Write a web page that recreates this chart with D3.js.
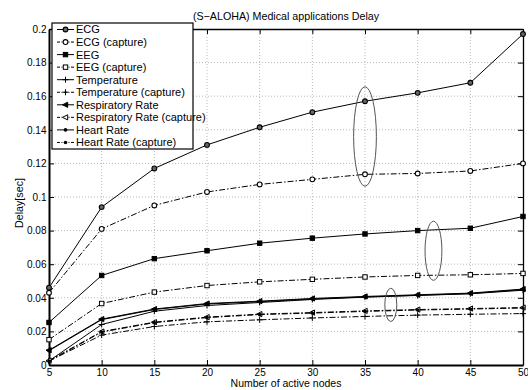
<!DOCTYPE html>
<html>
<head>
<meta charset="utf-8">
<script src="https://cdn.jsdelivr.net/npm/d3@7"></script>
<style>
  body { margin: 0; background: #fff; }
  svg { font-family: "Liberation Sans", Arial, sans-serif; }
</style>
</head>
<body>
<div id="chart"></div>
<script>
// number of active nodes
const nodes = [5, 10, 15, 20, 25, 30, 35, 40, 45, 50];

// delay [sec] per application
const ecg      = [0.046, 0.094, 0.117, 0.131, 0.1415, 0.1505, 0.157, 0.162, 0.168, 0.197];
const ecgCap   = [0.043, 0.081, 0.095, 0.103, 0.1075, 0.1105, 0.1135, 0.114, 0.1155, 0.120];
const eeg      = [0.0253, 0.0533, 0.0633, 0.068, 0.0725, 0.0755, 0.078, 0.080, 0.0814, 0.0884];
const eegCap   = [0.0151, 0.0366, 0.0434, 0.0473, 0.0495, 0.051, 0.0524, 0.0533, 0.0537, 0.0545];
const temp     = [0.0024, 0.0241, 0.032, 0.0354, 0.0372, 0.039, 0.0404, 0.0414, 0.0424, 0.0445];
const tempCap  = [0.0024, 0.0178, 0.0229, 0.0257, 0.0269, 0.028, 0.0289, 0.0297, 0.0302, 0.0306];
const resp     = [0.0088, 0.0273, 0.0333, 0.0366, 0.038, 0.0396, 0.0408, 0.0418, 0.0428, 0.0452];
const respCap  = [0.0026, 0.0199, 0.0255, 0.0285, 0.0303, 0.0312, 0.0322, 0.033, 0.0336, 0.0342];
const heart    = [0.0085, 0.027, 0.033, 0.0363, 0.0377, 0.0393, 0.0405, 0.0415, 0.0425, 0.0449];
const heartCap = [0.0022, 0.0196, 0.0252, 0.0282, 0.030, 0.0309, 0.0319, 0.0327, 0.0333, 0.0339];

const seriesNames = ["ECG", "ECG (capture)", "EEG", "EEG (capture)", "Temperature", "Temperature (capture)",
  "Respiratory Rate", "Respiratory Rate (capture)", "Heart Rate", "Heart Rate (capture)"];
const seriesValues = [ecg, ecgCap, eeg, eegCap, temp, tempCap, resp, respCap, heart, heartCap];
const seriesMarkers = ["circle", "circleOpen", "square", "squareOpen", "plus", "plus",
  "triangle", "triangleOpen", "dot", "dot"];

const xTicks = [5, 10, 15, 20, 25, 30, 35, 40, 45, 50];
const yTicks = [0, 0.02, 0.04, 0.06, 0.08, 0.1, 0.12, 0.14, 0.16, 0.18, 0.2];

// annotation ellipses: [x center, y center, x radius, y radius] in data units
const ellipses = [[35, 0.136, 1.08, 0.0296], [41.5, 0.068, 0.8, 0.0176], [37.45, 0.0358, 0.57, 0.0099]];

const W = 528, H = 390;
const margin = { top: 29, left: 49, bottom: 25, right: 5 };

const svg = d3.select("#chart").append("svg")
  .attr("width", W)
  .attr("height", H);

const x = d3.scaleLinear().domain([5, 50]).range([margin.left, W - margin.right]);
const y = d3.scaleLinear().domain([0, 0.2]).range([H - margin.bottom, margin.top]);

// grid
const grid = svg.append("g")
  .attr("stroke", "#b8b8b8")
  .attr("stroke-width", 1)
  .attr("stroke-dasharray", "1,2");
grid.selectAll(".gx").data(xTicks.slice(1, -1)).enter().append("line")
  .attr("x1", d => x(d)).attr("x2", d => x(d))
  .attr("y1", y(0)).attr("y2", y(0.2));
grid.selectAll(".gy").data(yTicks.slice(1, -1)).enter().append("line")
  .attr("x1", x(5)).attr("x2", x(50))
  .attr("y1", d => y(d)).attr("y2", d => y(d));

// axes (inward ticks on all four sides)
const fmt = d => String(+d.toFixed(2));
const axisStyle = w => g => {
  g.select(".domain").attr("stroke", "#000").attr("stroke-width", w);
  g.selectAll(".tick line").attr("stroke", "#000").attr("stroke-width", 1);
  g.selectAll("text").attr("font-size", "10px").attr("fill", "#000").attr("font-family", null);
};
svg.append("g")
  .attr("transform", `translate(0,${y(0)})`)
  .call(d3.axisBottom(x).tickValues(xTicks).tickSize(-5).tickSizeOuter(0).tickPadding(4).tickFormat(d3.format("d")))
  .call(axisStyle(2));
svg.append("g")
  .attr("transform", `translate(0,${y(0.2)})`)
  .call(d3.axisTop(x).tickValues(xTicks).tickSize(-5).tickSizeOuter(0).tickFormat(""))
  .call(axisStyle(1.3));
svg.append("g")
  .attr("transform", `translate(${x(5)},0)`)
  .call(d3.axisLeft(y).tickValues(yTicks).tickSize(-5).tickSizeOuter(0).tickPadding(2.5).tickFormat(fmt))
  .call(axisStyle(2));
svg.append("g")
  .attr("transform", `translate(${x(50)},0)`)
  .call(d3.axisRight(y).tickValues(yTicks).tickSize(-5).tickSizeOuter(0).tickFormat(""))
  .call(axisStyle(1.3));

// markers
function drawMarker(g, kind) {
  if (kind === "circle" || kind === "circleOpen") {
    g.append("circle").attr("r", 2.4)
      .attr("fill", kind === "circle" ? "#666" : "#fff")
      .attr("stroke", "#000").attr("stroke-width", 1.1);
  } else if (kind === "square" || kind === "squareOpen") {
    g.append("rect").attr("x", -2.2).attr("y", -2.2).attr("width", 4.4).attr("height", 4.4)
      .attr("fill", kind === "square" ? "#000" : "#fff")
      .attr("stroke", "#000").attr("stroke-width", 1);
  } else if (kind === "plus") {
    g.append("path").attr("d", "M-3,0H3M0,-3V3").attr("stroke", "#000").attr("stroke-width", 1);
  } else if (kind === "triangle" || kind === "triangleOpen") {
    g.append("path").attr("d", "M-3,0L2.2,-2.6L2.2,2.6Z")
      .attr("fill", kind === "triangle" ? "#000" : "#fff")
      .attr("stroke", "#000").attr("stroke-width", 1);
  } else {
    g.append("circle").attr("r", 1.8).attr("fill", "#000");
  }
}

const line = d3.line().x(d => x(d[0])).y(d => y(d[1]));

seriesNames.forEach((name, i) => {
  const pts = nodes.map((n, j) => [n, seriesValues[i][j]]);
  const capture = name.indexOf("capture") >= 0;
  svg.append("path")
    .datum(pts)
    .attr("fill", "none")
    .attr("stroke", "#000")
    .attr("stroke-width", 1)
    .attr("stroke-dasharray", capture ? "6,2,1.5,2" : null)
    .attr("d", line);
  svg.append("g").selectAll("g")
    .data(pts)
    .enter().append("g")
    .attr("transform", d => `translate(${x(d[0])},${y(d[1])})`)
    .each(function () { drawMarker(d3.select(this), seriesMarkers[i]); });
});

// ellipses
svg.append("g").selectAll("ellipse")
  .data(ellipses)
  .enter().append("ellipse")
  .attr("cx", d => x(d[0]))
  .attr("cy", d => y(d[1]))
  .attr("rx", d => x(d[0] + d[2]) - x(d[0]))
  .attr("ry", d => y(d[1] - d[3]) - y(d[1]))
  .attr("fill", "none")
  .attr("stroke", "#555")
  .attr("stroke-width", 1);

// legend
const legend = svg.append("g").attr("transform", "translate(52,23)");
legend.append("rect")
  .attr("width", 141).attr("height", 126)
  .attr("fill", "#fff").attr("stroke", "#000").attr("stroke-width", 1.2);
const item = legend.selectAll(".legend")
  .data(seriesNames)
  .enter().append("g")
  .attr("class", "legend")
  .attr("transform", (d, i) => `translate(0,${6.5 + i * 12.55})`);
item.append("line")
  .attr("x1", 5).attr("x2", 22)
  .attr("stroke", "#000").attr("stroke-width", 1)
  .attr("stroke-dasharray", d => d.indexOf("capture") >= 0 ? "3,1.5,1,1.5" : null);
item.append("g").attr("transform", "translate(13.5,0)")
  .each(function (d, i) { drawMarker(d3.select(this), seriesMarkers[i]); });
item.append("text")
  .attr("x", 24)
  .attr("dy", "0.36em")
  .attr("font-size", "11px")
  .text(d => d);

// title and labels
svg.append("text")
  .attr("x", (x(5) + x(50)) / 2).attr("y", 20)
  .attr("text-anchor", "middle").attr("font-size", "10.7px")
  .text("(S\u2212ALOHA) Medical applications Delay");
svg.append("text")
  .attr("x", (x(5) + x(50)) / 2).attr("y", 387)
  .attr("text-anchor", "middle").attr("font-size", "10.5px")
  .text("Number of active nodes");
svg.append("text")
  .attr("transform", `translate(23,${(y(0) + y(0.2)) / 2 + 6})rotate(-90)`)
  .attr("text-anchor", "middle").attr("font-size", "10.7px")
  .text("Delay[sec]");
</script>
</body>
</html>
